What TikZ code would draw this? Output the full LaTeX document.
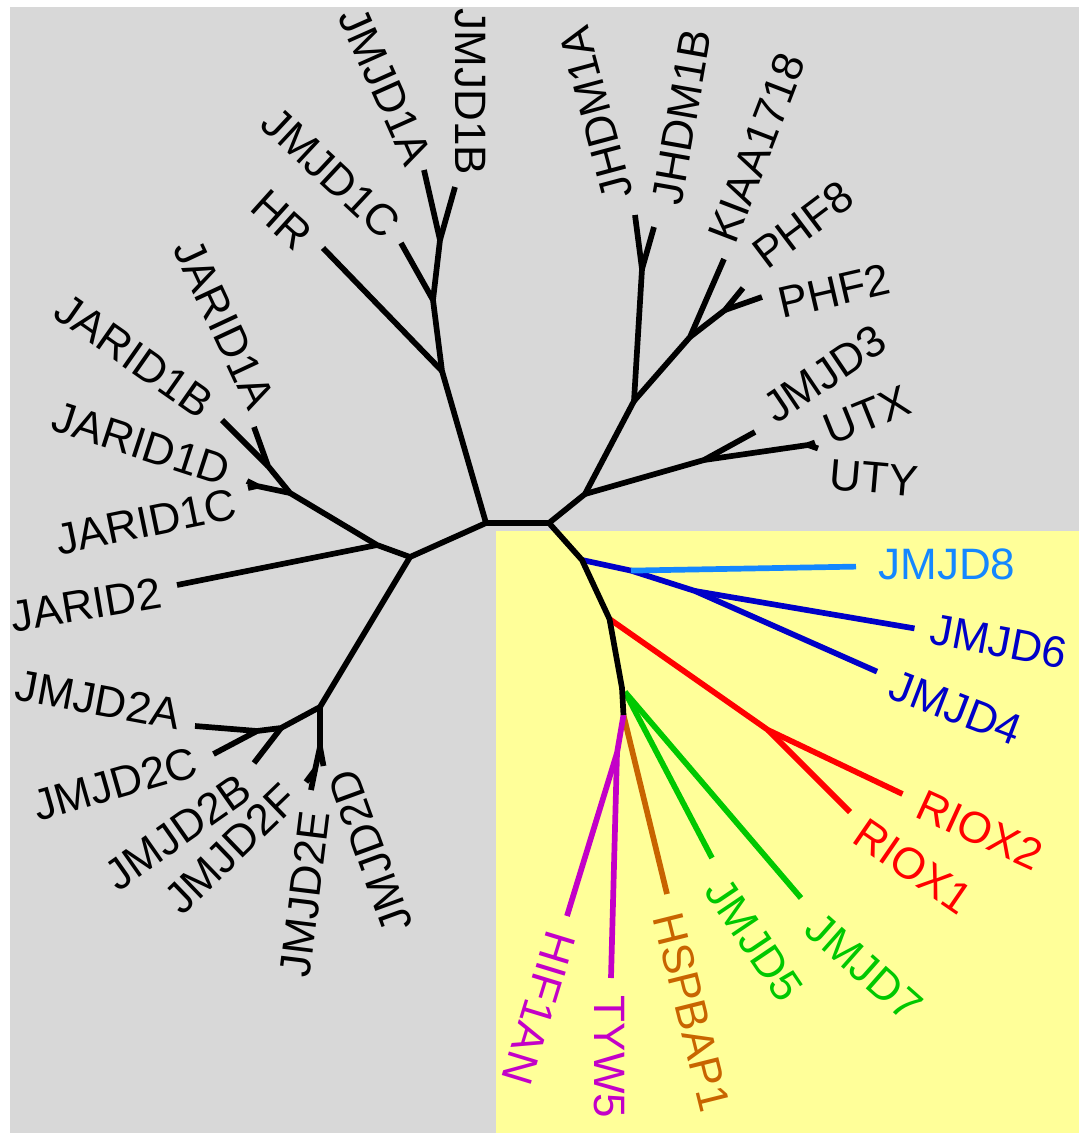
\documentclass[tikz,border=0pt]{standalone}
\usepackage{fontspec}
\setmainfont{Liberation Sans}
\definecolor{bggray}{RGB}{216,216,216}
\definecolor{bgyellow}{RGB}{255,255,153}
\definecolor{lblue}{RGB}{20,135,255}
\definecolor{dblue}{RGB}{0,0,200}
\definecolor{tred}{RGB}{255,0,0}
\definecolor{tgreen}{RGB}{0,200,0}
\definecolor{tbrown}{RGB}{200,100,0}
\definecolor{tpurple}{RGB}{195,0,200}
\begin{document}
\begin{tikzpicture}[x=1pt,y=-1pt,
  br/.style={line width=5.7pt, line join=round},
  lab/.style={inner sep=0pt, font=\fontsize{44}{44}\selectfont}]
\useasboundingbox (0,0) rectangle (1079,1133);
\fill[white] (0,0) rectangle (1079,1133);
\fill[bggray] (10,7) rectangle (1079,1133);
\fill[bgyellow] (496,531) rectangle (1079,1133);

% internal nodes
\coordinate (C1) at (486,523);
\coordinate (C2) at (549,523);
\coordinate (U1) at (442,371);
\coordinate (U2) at (433,300);
\coordinate (U3) at (440,240);
\coordinate (L1) at (410,557);
\coordinate (LJ2) at (377,545);
\coordinate (LJ1) at (290,493);
\coordinate (LJ1AB) at (268,466);
\coordinate (LJ1CD) at (257,486);
\coordinate (L3) at (320,707);
\coordinate (L4) at (281,728);
\coordinate (L5) at (257,731);
\coordinate (L6) at (320,747);
\coordinate (L7) at (315,770);
\coordinate (R1) at (585,494);
\coordinate (R2) at (634,401);
\coordinate (R3) at (642,269);
\coordinate (R4) at (690,337);
\coordinate (R5) at (725,310);
\coordinate (R6) at (704,460);
\coordinate (R7) at (808,445);
\coordinate (Y1) at (582,560);
\coordinate (Y2) at (609.5,619);
\coordinate (Y3) at (622,688);
\coordinate (Y4) at (623.5,715);
\coordinate (B1) at (631,570.6);
\coordinate (B2) at (695,591);
\coordinate (RR) at (768,730);
\coordinate (G0) at (625,692);
\coordinate (P1) at (617,753);

% tips
\coordinate (tJMJD1A) at (424,170);
\coordinate (tJMJD1B) at (455,187);
\coordinate (tJMJD1C) at (401,243);
\coordinate (tHR) at (323,248);
\coordinate (tJARID1A) at (254,427);
\coordinate (tJARID1B) at (222,420);
\coordinate (tJARID1D) at (247,481);
\coordinate (tJARID1C) at (248,488);
\coordinate (tJARID2) at (177,585);
\coordinate (tJMJD2A) at (195,726);
\coordinate (tJMJD2C) at (213.5,754);
\coordinate (tJMJD2B) at (254,763);
\coordinate (tJMJD2D) at (323.5,766);
\coordinate (tJMJD2F) at (306,782);
\coordinate (tJMJD2E) at (311,790);
\coordinate (tJHDM1A) at (635,215);
\coordinate (tJHDM1B) at (654,227);
\coordinate (tKIAA) at (724,259);
\coordinate (tPHF8) at (743,288);
\coordinate (tPHF2) at (762,297);
\coordinate (tJMJD3) at (755,432);
\coordinate (tUTX) at (815,442.5);
\coordinate (tUTY) at (818,448.5);
\coordinate (tJMJD8) at (856,566.6);
\coordinate (tJMJD6) at (914.5,628.4);
\coordinate (tJMJD4) at (877,671.6);
\coordinate (tRIOX2) at (902.5,794);
\coordinate (tRIOX1) at (850,812);
\coordinate (tJMJD7) at (801,898);
\coordinate (tJMJD5) at (712,858);
\coordinate (tHSP) at (667,894);
\coordinate (tTYW5) at (611,978);
\coordinate (tHIF1AN) at (567,916);

% coloured branches
\draw[br,dblue] (Y1) -- (B1) -- (B2) -- (tJMJD6);
\draw[br,dblue] (B2) -- (tJMJD4);
\draw[br,lblue] (B1) -- (tJMJD8);
\draw[br,tred] (Y2) -- (RR) -- (tRIOX2);
\draw[br,tred] (RR) -- (tRIOX1);
\draw[br,tgreen] (G0) -- (tJMJD7);
\draw[br,tgreen] (G0) -- (tJMJD5);
\draw[br,tbrown] (Y4) -- (tHSP);
\draw[br,tpurple] (Y4) -- (P1) -- (tHIF1AN);
\draw[br,tpurple] (P1) -- (tTYW5);

% black branches
\draw[br] (C1) -- (C2);
\draw[br] (C1) -- (U1) -- (U2) -- (U3) -- (tJMJD1A);
\draw[br] (U3) -- (tJMJD1B);
\draw[br] (U2) -- (tJMJD1C);
\draw[br] (U1) -- (tHR);
\draw[br] (C1) -- (L1) -- (LJ2) -- (LJ1) -- (LJ1AB) -- (tJARID1A);
\draw[br] (LJ1AB) -- (tJARID1B);
\draw[br] (LJ1) -- (LJ1CD) -- (tJARID1D);
\draw[br] (LJ1CD) -- (tJARID1C);
\draw[br] (LJ2) -- (tJARID2);
\draw[br] (L1) -- (L3) -- (L4) -- (L5) -- (tJMJD2A);
\draw[br] (L5) -- (tJMJD2C);
\draw[br] (L4) -- (tJMJD2B);
\draw[br] (L3) -- (L6) -- (tJMJD2D);
\draw[br] (L6) -- (L7) -- (tJMJD2F);
\draw[br] (L7) -- (tJMJD2E);
\draw[br] (C2) -- (R1) -- (R2) -- (R3) -- (tJHDM1A);
\draw[br] (R3) -- (tJHDM1B);
\draw[br] (R2) -- (R4) -- (tKIAA);
\draw[br] (R4) -- (R5) -- (tPHF8);
\draw[br] (R5) -- (tPHF2);
\draw[br] (R1) -- (R6) -- (R7) -- (tUTX);
\draw[br] (R7) -- (tUTY);
\draw[br] (R6) -- (tJMJD3);
\draw[br] (C2) -- (Y1) -- (Y2) -- (Y3) -- (Y4);

% labels
\node[lab,rotate=-66] (lJMJD1A) at (385,86) {JMJD1A};
\node[lab,rotate=-90] (lJMJD1B) at (470,92) {JMJD1B};
\node[lab,rotate=-43] (lJMJD1C) at (331,173) {JMJD1C};
\node[lab,rotate=-42] (lHR) at (282,220) {HR};
\node[lab,rotate=-65] (lJARID1A) at (224,324) {JARID1A};
\node[lab,rotate=-35] (lJARID1B) at (134,356) {JARID1B};
\node[lab,rotate=-18] (lJARID1D) at (141,444) {JARID1D};
\node[lab,rotate=11.6] (lJARID1C) at (146,522) {JARID1C};
\node[lab,rotate=9.5] (lJARID2) at (86,605) {JARID2};
\node[lab,rotate=-10.5] (lJMJD2A) at (98,700) {JMJD2A};
\node[lab,rotate=16] (lJMJD2C) at (115,784) {JMJD2C};
\node[lab,rotate=35] (lJMJD2B) at (178,832) {JMJD2B};
\node[lab,rotate=44] (lJMJD2F) at (231,849) {JMJD2F};
\node[lab,rotate=83] (lJMJD2E) at (305,894) {JMJD2E};
\node[lab,rotate=110] (lJMJD2D) at (370,851) {JMJD2D};
\node[lab,rotate=105] (lJHDM1A) at (596,113) {JHDM1A};
\node[lab,rotate=80] (lJHDM1B) at (682,117) {JHDM1B};
\node[lab,rotate=69] (lKIAA) at (757,148) {KIAA1718};
\node[lab,rotate=37] (lPHF8) at (803,225) {PHF8};
\node[lab,rotate=13] (lPHF2) at (834,291) {PHF2};
\node[lab,rotate=34] (lJMJD3) at (825,374) {JMJD3};
\node[lab,rotate=22] (lUTX) at (867,415) {UTX};
\node[lab,rotate=-5] (lUTY) at (874,478) {UTY};
\node[lab,text=lblue] (lJMJD8) at (947,564) {JMJD8};
\node[lab,text=dblue,rotate=-10.7] (lJMJD6) at (999,641) {JMJD6};
\node[lab,text=dblue,rotate=-21] (lJMJD4) at (956,708) {JMJD4};
\node[lab,text=tred,rotate=-24.5] (lRIOX2) at (980,830) {RIOX2};
\node[lab,text=tred,rotate=-34.5] (lRIOX1) at (913,866) {RIOX1};
\node[lab,text=tgreen,rotate=-41.5] (lJMJD7) at (864,967) {JMJD7};
\node[lab,text=tgreen,rotate=-56] (lJMJD5) at (754,940) {JMJD5};
\node[lab,text=tbrown,rotate=-76] (lHSP) at (692,1012) {HSPBAP1};
\node[lab,text=tpurple,rotate=-90] (lTYW5) at (609,1057) {TYW5};
\node[lab,text=tpurple,rotate=-107] (lHIF1AN) at (539,1008) {HIF1AN};
\end{tikzpicture}
\end{document}
